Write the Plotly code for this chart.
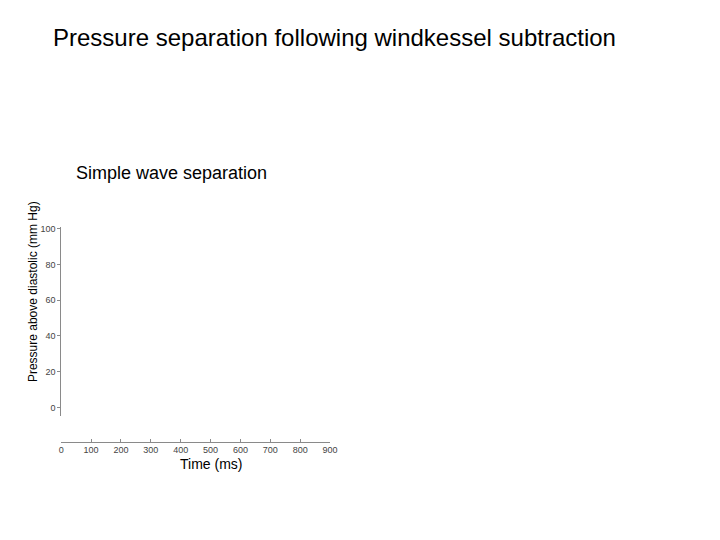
import plotly.graph_objects as go

W, H = 720, 540
OFF = 8  # page body margin in the browser

# axis data (chart has no plotted series)
time_ms = []
pressure = []
x_ticks = [0, 100, 200, 300, 400, 500, 600, 700, 800, 900]
y_ticks = [0, 20, 40, 60, 80, 100]

fig = go.Figure()
fig.add_trace(go.Scatter(x=time_ms, y=pressure, mode="lines",
                         line=dict(color="black"), showlegend=False))

def px_x(v):
    return (v - OFF) / W

def px_y(v):
    return 1 - (v - OFF) / H

grey = "#8a8a8a"
tickfont = dict(family="Liberation Sans, Arial", size=9, color="#444444")

fig.update_layout(
    width=W, height=H,
    margin=dict(l=0, r=0, t=0, b=0),
    paper_bgcolor="white", plot_bgcolor="white",
    showlegend=False,
    xaxis=dict(
        domain=[px_x(59), px_x(332)],
        range=[0, 900],
        anchor="free", position=px_y(441),
        tickvals=x_ticks,
        ticks="inside", ticklen=3, tickcolor=grey,
        showline=True, linecolor=grey, linewidth=1,
        showgrid=False, zeroline=False,
        tickfont=tickfont,
    ),
    yaxis=dict(
        domain=[px_y(415), px_y(225)],
        range=[-4.7, 101.1],
        tickvals=y_ticks,
        ticks="outside", ticklen=3, tickcolor=grey,
        showline=True, linecolor=grey, linewidth=1,
        showgrid=False, zeroline=False,
        tickfont=tickfont,
    ),
)

texts = [
    ("Pressure separation following windkessel subtraction", 337, 35, 24, 0),
    ("Simple wave separation", 170.5, 171, 18, 0),
    ("Pressure above diastolic (mm Hg)", 31, 290, 12, -90),
    ("Time (ms)", 211.5, 464, 14, 0),
]
for txt, x, y, size, ang in texts:
    fig.add_annotation(text=txt, x=px_x(x), y=px_y(y), xref="paper", yref="paper",
                       xanchor="center", yanchor="middle", showarrow=False,
                       textangle=ang,
                       font=dict(family="Liberation Sans, Arial", size=size, color="black"))

fig.write_html("out.html")
